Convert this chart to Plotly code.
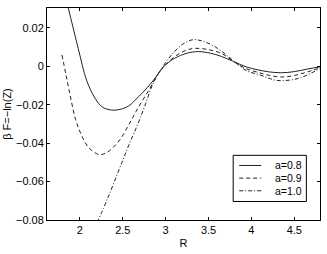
import plotly.graph_objects as go

# a = 0.8 (solid)
r_08 = [1.85, 1.98, 2.08, 2.18, 2.26, 2.37, 2.47, 2.57, 2.68, 2.76, 2.88, 2.97, 3.10, 3.25, 3.38, 3.52, 3.65, 3.79, 3.95, 4.08, 4.20, 4.35, 4.50, 4.65, 4.80]
f_08 = [0.033, 0.0093, -0.0076, -0.0169, -0.0212, -0.0228, -0.0224, -0.0206, -0.0160, -0.0124, -0.0060, -0.0005, 0.0040, 0.0068, 0.0076, 0.0068, 0.0051, 0.0025, -0.0005, -0.0019, -0.0029, -0.0034, -0.0028, -0.0015, -0.0003]

# a = 0.9 (dashed)
r_09 = [1.79, 1.84, 1.89, 1.95, 2.02, 2.10, 2.22, 2.30, 2.37, 2.47, 2.58, 2.68, 2.80, 2.91, 3.00, 3.12, 3.25, 3.34, 3.48, 3.65, 3.79, 3.95, 4.08, 4.20, 4.35, 4.50, 4.65, 4.80]
f_09 = [0.0059, -0.0050, -0.0160, -0.0278, -0.0360, -0.0422, -0.0459, -0.0452, -0.0430, -0.0380, -0.0296, -0.0215, -0.0127, -0.0042, 0.0008, 0.0055, 0.0085, 0.0093, 0.0088, 0.0067, 0.0025, -0.0015, -0.0032, -0.0047, -0.0056, -0.0048, -0.0030, -0.0008]

# a = 1.0 (dash-dot)
r_10 = [2.20, 2.33, 2.49, 2.58, 2.68, 2.77, 2.85, 2.97, 3.08, 3.20, 3.32, 3.45, 3.58, 3.70, 3.79, 3.95, 4.08, 4.20, 4.30, 4.45, 4.58, 4.70, 4.80]
f_10 = [-0.0815, -0.0680, -0.0500, -0.0400, -0.0296, -0.0190, -0.0093, 0.0000, 0.0065, 0.0115, 0.0138, 0.0128, 0.0100, 0.0062, 0.0028, -0.0025, -0.0042, -0.0062, -0.0074, -0.0072, -0.0059, -0.0035, -0.0012]

x_ticks = [2, 2.5, 3, 3.5, 4, 4.5]
y_ticks = [-0.08, -0.06, -0.04, -0.02, 0, 0.02]

series_names = ["a=0.8", "a=0.9", "a=1.0"]
series_dash = ["solid", "4px,3px", "4px,2px,1px,2px"]

line_col = "#222222"
fig = go.Figure()
for r, f, name, dash in zip([r_08, r_09, r_10], [f_08, f_09, f_10], series_names, series_dash):
    fig.add_trace(go.Scatter(x=r, y=f, mode="lines", name=name, showlegend=False,
                             line=dict(color=line_col, width=1, dash=dash, shape="spline", smoothing=1.0)))

axis_common = dict(showgrid=False, zeroline=False, showline=True, linecolor="black", linewidth=1,
                   mirror="ticks", ticks="inside", ticklen=3, tickcolor="black",
                   tickfont=dict(family="Liberation Sans, Arial", size=11, color="black"))

# Manual legend box (compact, MATLAB style)
shapes = [dict(type="rect", xref="paper", yref="paper", x0=0.682, x1=0.950, y0=0.0873, y1=0.305,
               line=dict(color="black", width=1), fillcolor="white", layer="above")]
annotations = []
leg_y = [0.2572, 0.1975, 0.1378]
for yy, name, dash in zip(leg_y, series_names, series_dash):
    shapes.append(dict(type="line", xref="paper", yref="paper", x0=0.704, x1=0.785, y0=yy, y1=yy,
                       line=dict(color=line_col, width=1, dash=dash), layer="above"))
    annotations.append(dict(xref="paper", yref="paper", x=0.830, y=yy, text=name, showarrow=False,
                            xanchor="left", yanchor="middle", borderpad=0,
                            font=dict(size=10.5, color="black")))

fig.update_layout(
    width=327, height=254,
    margin=dict(l=47, r=6, t=8, b=28),
    paper_bgcolor="white", plot_bgcolor="white",
    font=dict(family="Liberation Sans, Arial", size=11, color="black"),
    xaxis=dict(range=[1.616, 4.80], tickvals=x_ticks, ticktext=[f"{v:g}" for v in x_ticks],
               title=dict(text="R", standoff=4, font=dict(size=11)), **axis_common),
    yaxis=dict(range=[-0.08, 0.0303], tickvals=y_ticks,
               ticktext=[("\u2212" if v < 0 else "") + f"{abs(v):g}" for v in y_ticks],
               title=dict(text="\u03b2 F=\u2212ln(Z)", standoff=2, font=dict(size=11)), **axis_common),
    shapes=shapes,
    annotations=annotations,
    showlegend=False,
)

fig.write_html("out.html", config={"displayModeBar": False},
               post_script="document.body.style.margin='0px';")
